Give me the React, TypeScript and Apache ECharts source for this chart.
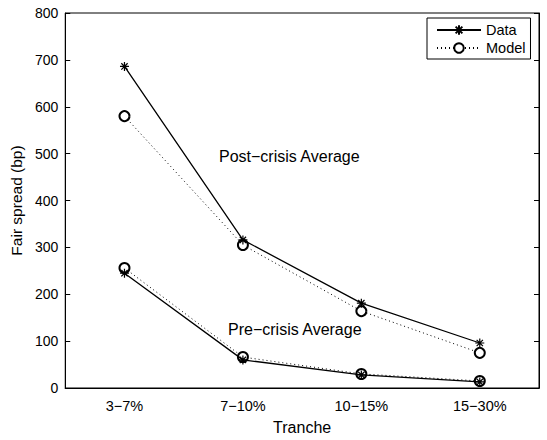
import React, { useEffect, useRef } from "react";
import * as echarts from "echarts";

const categories = ["3−7%", "7−10%", "10−15%", "15−30%"];
const postData = [686, 316, 181, 96];
const postModel = [580, 305, 164, 75];
const preData = [245, 60, 28, 13];
const preModel = [256, 66, 30, 15];
const yTicks = { min: 0, max: 800, interval: 100 };

const FONT = "Liberation Sans, Arial, Helvetica, sans-serif";
const ASTERISK =
  "path://M5,0 L5,10 M0,5 L10,5 M1.5,1.5 L8.5,8.5 M1.5,8.5 L8.5,1.5";

export default function App() {
  const ref = useRef<HTMLDivElement>(null);
  useEffect(() => {
    document.body.style.margin = "0";
    if (!ref.current) return;
    const chart = echarts.init(ref.current, undefined, { renderer: "svg" });
    const dataStyle = (name: string, values: number[], z: number) => ({
      name,
      type: "line",
      data: values,
      z,
      symbol: ASTERISK,
      symbolSize: 9,
      showAllSymbol: true,
      lineStyle: { color: "#000", width: 1.3, type: "solid" },
      itemStyle: { color: "none", borderColor: "#000", borderWidth: 1.2 },
      emphasis: { disabled: true },
    });
    const modelStyle = (name: string, values: number[], z: number) => ({
      name,
      type: "line",
      data: values,
      z,
      symbol: "emptyCircle",
      symbolSize: 10,
      showAllSymbol: true,
      lineStyle: { color: "#000", width: 1, type: [1, 3] },
      itemStyle: { color: "#000", borderColor: "#000", borderWidth: 1.3 },
      emphasis: { disabled: true },
    });
    chart.setOption({
      animation: false,
      textStyle: { fontFamily: FONT },
      grid: {
        left: 55,
        top: 13,
        right: 8,
        bottom: 51,
        show: true,
        borderColor: "#000",
        borderWidth: 1,
        backgroundColor: "#fff",
      },
      legend: {
        orient: "vertical",
        left: 427,
        top: 18,
        data: ["Data", "Model"],
        backgroundColor: "#fff",
        borderColor: "#000",
        borderWidth: 1,
        borderRadius: 0,
        padding: [4, 5, 3, 9],
        itemWidth: 44,
        itemHeight: 12,
        itemGap: 2,
        textStyle: { fontSize: 14.5, lineHeight: 16, color: "#000", fontFamily: FONT },
      },
      xAxis: [
        {
          type: "category",
          data: categories,
          boundaryGap: true,
          name: "Tranche",
          nameLocation: "middle",
          nameGap: 31,
          nameTextStyle: { fontSize: 16, color: "#000" },
          axisLine: { lineStyle: { color: "#000" } },
          axisTick: { inside: true, alignWithLabel: true, length: 5, lineStyle: { color: "#000" } },
          axisLabel: { color: "#000", fontSize: 14.5, margin: 10 },
        },
        {
          type: "category",
          data: categories,
          position: "top",
          boundaryGap: true,
          axisLine: { lineStyle: { color: "#000" } },
          axisTick: { inside: true, alignWithLabel: true, length: 5, lineStyle: { color: "#000" } },
          axisLabel: { show: false },
        },
      ],
      yAxis: [
        {
          type: "value",
          min: yTicks.min,
          max: yTicks.max,
          interval: yTicks.interval,
          name: "Fair spread (bp)",
          nameLocation: "middle",
          nameGap: 38,
          nameTextStyle: { fontSize: 15.5, color: "#000" },
          splitLine: { show: false },
          axisLine: { show: true, lineStyle: { color: "#000" } },
          axisTick: { show: true, inside: true, length: 5, lineStyle: { color: "#000" } },
          axisLabel: { color: "#000", fontSize: 14, margin: 7 },
        },
        {
          type: "value",
          min: yTicks.min,
          max: yTicks.max,
          interval: yTicks.interval,
          position: "right",
          splitLine: { show: false },
          axisLine: { show: true, lineStyle: { color: "#000" } },
          axisTick: { show: true, inside: true, length: 5, lineStyle: { color: "#000" } },
          axisLabel: { show: false },
        },
      ],
      graphic: [
        {
          type: "text",
          left: 219,
          top: 148,
          style: { text: "Post−crisis Average", fontSize: 16, fill: "#000", fontFamily: FONT },
        },
        {
          type: "text",
          left: 228,
          top: 321,
          style: { text: "Pre−crisis Average", fontSize: 16, fill: "#000", fontFamily: FONT },
        },
      ],
      series: [
        modelStyle("Model", postModel, 2),
        modelStyle("Model", preModel, 2),
        dataStyle("Data", postData, 3),
        dataStyle("Data", preData, 3),
      ],
    });
    return () => chart.dispose();
  }, []);
  return <div ref={ref} style={{ width: 547, height: 440 }} />;
}
